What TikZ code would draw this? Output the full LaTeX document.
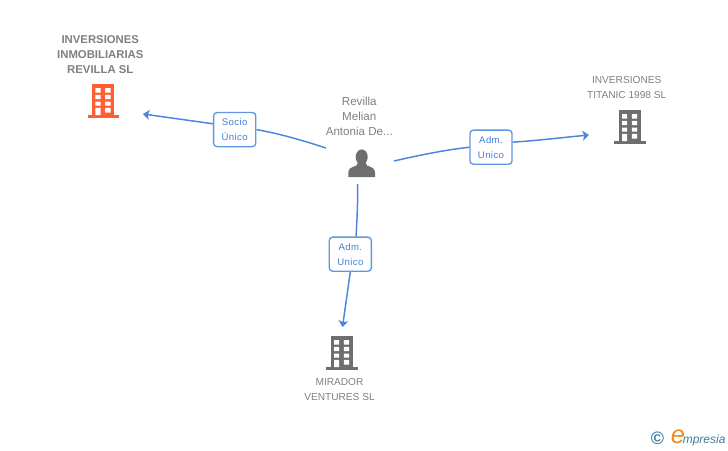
\documentclass[tikz,border=0pt]{standalone}
\usepackage{fontspec}
\setmainfont{Liberation Sans}
\usetikzlibrary{arrows.meta}
\definecolor{linkblue}{HTML}{4A86E0}
\definecolor{boxblue}{HTML}{5F97E6}
\definecolor{labelblue}{HTML}{3F7FDC}
\definecolor{txtgrey}{HTML}{808080}
\definecolor{icongrey}{HTML}{6E6E6E}
\definecolor{iconorange}{HTML}{FF5F30}
\definecolor{logoteal}{HTML}{3F7F9F}
\definecolor{logoorange}{HTML}{F08A1D}
\tikzset{
  px/.style={x=0.75pt,y=-0.75pt},
  relbox/.style={draw=boxblue,line width=1pt,fill=white,rounded corners=2.6pt,minimum width=31.6pt,minimum height=25.6pt,inner sep=0pt,align=center,text=labelblue,font=\fontsize{7.2pt}{11.25pt}\selectfont\addfontfeature{LetterSpace=4}},
  link/.style={draw=linkblue,line width=1.1pt},
  linkend/.style={link,-{Stealth[length=4.8pt,width=7.5pt,inset=1.2pt]}},
  reg/.style={align=center,inner sep=0pt,text=txtgrey,font=\fontsize{7.6pt}{11.25pt}\selectfont},
  person/.style={align=center,inner sep=0pt,text=txtgrey,font=\fontsize{8.7pt}{11.25pt}\selectfont},
  boldl/.style={align=center,inner sep=0pt,text=txtgrey,font=\fontsize{8.5pt}{11.25pt}\selectfont\bfseries},
  iconbox/.style={minimum width=24pt,minimum height=25.5pt,inner sep=0pt}
}
\newcommand{\bldg}[3]{%
  \node[iconbox] (#1) at (#2) {};
  \begin{scope}[shift={(#2)}]
    \fill[#3] (-11,-17) rectangle (11,14);
    \fill[#3] (-15.7,14) rectangle (15.7,17);
    \fill[white] (-8,-13) rectangle (-2.8,-8.5) (1.8,-13) rectangle (7.2,-8.5)
      (-8,-6.2) rectangle (-2.8,-1.8) (1.8,-6.2) rectangle (7.2,-1.8)
      (-8,0.5) rectangle (-2.8,4.5) (1.8,0.5) rectangle (7.2,4.5)
      (-8,6.8) rectangle (-2.8,14) (1.8,6.8) rectangle (7.2,11.5);
  \end{scope}}
\begin{document}
\begin{tikzpicture}[px]
\useasboundingbox (0,0) rectangle (728,450);
\fill[white] (0,0) rectangle (728,450);

\bldg{orangeb}{103.4,101}{iconorange}
\bldg{titanicb}{630,127}{icongrey}
\bldg{miradorb}{342,353}{icongrey}

% person icon
\node[minimum width=20pt,minimum height=20pt,inner sep=0pt] (personi) at (361.7,163) {};
\fill[icongrey] (361.7,157) ellipse (6 and 7.6);
\fill[icongrey] (348.3,177) -- (348.3,172.5) .. controls (348.5,168.5) and (351,167.5) .. (356.5,165.5)
  -- (358,162) -- (365.4,162) -- (367,165.5) .. controls (372.5,167.5) and (374.8,168.5) .. (375,172.5) -- (375,177) -- cycle;

\node[boldl] (orangel) at (100.3,54.5) {INVERSIONES\\INMOBILIARIAS\\REVILLA SL};
\node[reg] (titanicl) at (626.7,88) {INVERSIONES\\TITANIC 1998 SL};
\node[reg] (miradorl) at (339.5,389.5) {MIRADOR\\VENTURES SL};
\node[person] (personl) at (359.3,116) {Revilla\\Melian\\Antonia De...};

\node[relbox] (socio) at (234.7,129.6) {Socio\\Único};
\node[relbox] (admr) at (491,147.2) {Adm.\\Unico};
\node[relbox] (admd) at (350.3,254.2) {Adm.\\Unico};

\coordinate (pl) at (326,148);
\coordinate (pr) at (394,161);
\coordinate (pd) at (357.5,184);
\coordinate (tl) at (143,114);
\coordinate (tr) at (589,135);
\coordinate (td) at (342.5,327);

\draw[link] (pl) .. controls (303,140.5) and (279,133.5) .. (socio.east);
\draw[linkend] (socio.165) -- (tl);
\draw[link] (pr) .. controls (420,155) and (445,150) .. (admr.west);
\draw[linkend] (admr.13) .. controls (538,140.5) and (563,137.5) .. (tr);
\draw[link] (pd) .. controls (358,200) and (357,220) .. (admd.72);
\draw[linkend] (admd.south) -- (td);

% logo
\node[inner sep=0pt,text=logoteal,font=\fontsize{13.5pt}{14pt}\selectfont\bfseries] (copy) at (657.5,438) {©};
\node[inner sep=0pt,anchor=base west,text=logoorange,font=\fontsize{19pt}{20pt}\selectfont\itshape] (loge) at (670.5,443.5) {e};
\node[inner sep=0pt,anchor=base west,text=logoteal,font=\fontsize{9pt}{10pt}\selectfont\itshape] (logt) at (682.5,443) {mpresia};
\end{tikzpicture}
\end{document}
